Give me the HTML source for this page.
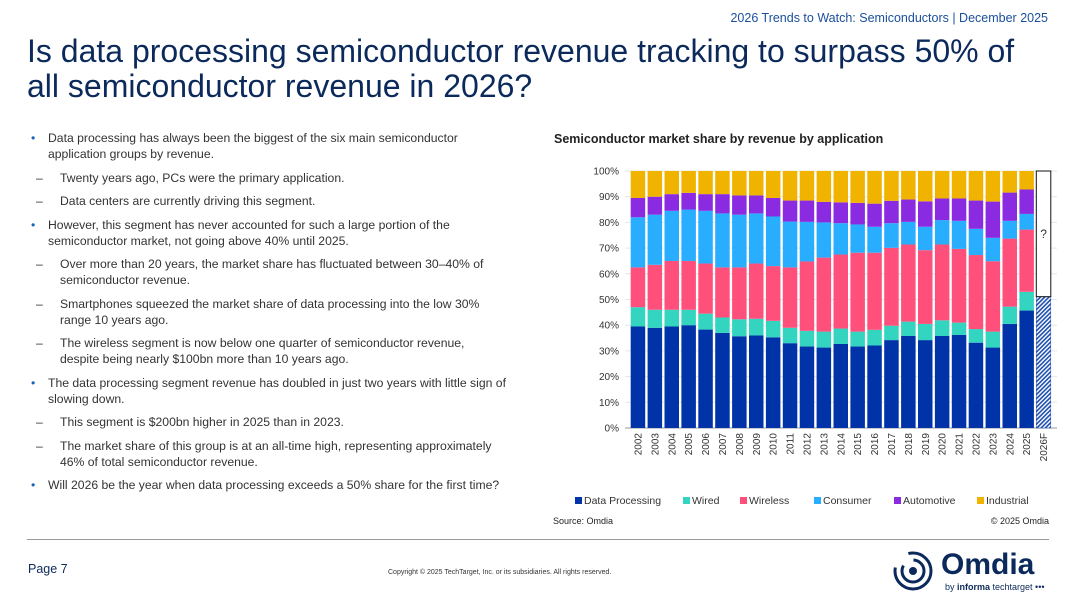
<!DOCTYPE html>
<html><head><meta charset="utf-8"><style>
body{margin:0;width:1080px;height:600px;overflow:hidden;background:#fff;font-family:"Liberation Sans",sans-serif;position:relative;color:#222}
.abs{position:absolute}
ul{margin:0;padding:0;list-style:none}
li{position:relative;font-size:12.2px;line-height:16px;color:#333}
li.b{padding-left:20px;margin-bottom:7.5px}
li.b:before{content:"•";position:absolute;left:3px;color:#1a64b4}
li.s{margin-left:20px;padding-left:12px;margin-bottom:7.5px}
li.s:before{content:"–";position:absolute;left:-12px}
</style></head><body>
<div class="abs" style="right:32px;top:11px;font-size:12.5px;color:#1a4f9c">2026 Trends to Watch: Semiconductors | December 2025</div>
<div class="abs" style="left:27px;top:34px;font-size:32px;line-height:35px;color:#0b2a5b;width:1045px;white-space:nowrap">Is data processing semiconductor revenue tracking to surpass 50% of<br>all semiconductor revenue in 2026?</div>
<ul class="abs" style="left:28px;top:130px;width:478px">
<li class="b">Data processing has always been the biggest of the six main semiconductor application groups by revenue.</li>
<li class="s">Twenty years ago, PCs were the primary application.</li>
<li class="s">Data centers are currently driving this segment.</li>
<li class="b">However, this segment has never accounted for such a large portion of the semiconductor market, not going above 40% until 2025.</li>
<li class="s">Over more than 20 years, the market share has fluctuated between 30–40% of semiconductor revenue.</li>
<li class="s">Smartphones squeezed the market share of data processing into the low 30% range 10 years ago.</li>
<li class="s">The wireless segment is now below one quarter of semiconductor revenue, despite being nearly $100bn more than 10 years ago.</li>
<li class="b">The data processing segment revenue has doubled in just two years with little sign of slowing down.</li>
<li class="s">This segment is $200bn higher in 2025 than in 2023.</li>
<li class="s">The market share of this group is at an all-time high, representing approximately 46% of total semiconductor revenue.</li>
<li class="b">Will 2026 be the year when data processing exceeds a 50% share for the first time?</li>
</ul>
<div class="abs" style="left:554px;top:132px;font-size:12.5px;font-weight:bold">Semiconductor market share by revenue by application</div>
<svg class="abs" style="left:0;top:0" width="1080" height="540">
<defs><pattern id="h" width="3" height="3" patternUnits="userSpaceOnUse" patternTransform="rotate(45)"><rect width="3" height="3" fill="#fff"/><rect width="1.6" height="3" fill="#1f4fb0"/></pattern></defs>
<g id="g"></g></svg>
<div class="abs" style="left:553px;top:516px;font-size:9px">Source: Omdia</div>
<div class="abs" style="right:31px;top:516px;font-size:9px">© 2025 Omdia</div>
<div class="abs" style="left:27px;top:539px;width:1022px;height:1px;background:#999"></div>
<div class="abs" style="left:28px;top:562px;font-size:12.5px;color:#0b2a5b">Page 7</div>
<div class="abs" style="left:388px;top:569px;font-size:7px;color:#333">Copyright © 2025 TechTarget, Inc. or its subsidiaries. All rights reserved.</div>
<svg class="abs" style="left:892px;top:550px" width="42" height="42"><circle cx="21" cy="21" r="18" fill="none" stroke="#0b2a5b" stroke-width="3" stroke-dasharray="60 20"/><circle cx="21" cy="21" r="11" fill="none" stroke="#0b2a5b" stroke-width="3" stroke-dasharray="40 12"/><circle cx="21" cy="21" r="4" fill="#0b2a5b"/></svg>
<div class="abs" style="left:941px;top:549px;font-size:30px;font-weight:bold;color:#0b2a5b;line-height:32px">Omdia</div>
<div class="abs" style="left:945px;top:582px;font-size:9px;color:#0b2a5b">by <b>informa</b> techtarget •••</div>
<script>
const years=["2002","2003","2004","2005","2006","2007","2008","2009","2010","2011","2012","2013","2014","2015","2016","2017","2018","2019","2020","2021","2022","2023","2024","2025"];
const dataProcessing=[39.5,39,39.5,40,38.3,37,35.7,36,35.3,33,31.7,31.3,32.7,31.7,32.1,34.2,35.8,34.2,35.8,36.2,33.2,31.3,40.5,45.7];
const wired=[7.5,7,6.5,6,6.2,6,6.6,6.5,6.4,6,6.1,6.2,6,5.8,6.1,5.6,5.6,6.3,6.1,4.8,5.3,6.2,6.7,7.3];
const wireless=[15.5,17.5,19,19,19.5,19.5,20.2,21.5,21.3,23.5,27,28.8,28.8,30.7,30,30.3,30,28.7,29.5,28.7,28.8,27.4,26.5,24.2];
const consumer=[19.5,19.5,19.5,20,20.5,21,20.5,19.5,19.3,17.8,15.4,13.7,12.2,11,10.1,9.6,8.8,9.1,9.5,10.9,10.2,9.1,6.9,6.1];
const automotive=[7.5,7,6.5,6.5,6.5,7.5,7.5,7,7.2,8.2,8.3,8,8.1,8.4,9,8.7,8.7,9.9,8.4,8.7,11,14.1,11,9.5];
const forecastLabel="2026F";
const forecastDP=51.1;
const yTicks=[0,10,20,30,40,50,60,70,80,90,100];
const names=["Data Processing","Wired","Wireless","Consumer","Automotive","Industrial"];
const colors=["#0033a8","#33d4c0","#ff4f7b","#29adff","#8a2be2","#f0b400"];
const g=document.getElementById('g');const NS="http://www.w3.org/2000/svg";
function mk(t,a,p){const e=document.createElementNS(NS,t);for(const k in a)e.setAttribute(k,a[k]);(p||g).appendChild(e);return e;}
const y0=428,y1=171,x0=629.5,pitch=16.9,bw=14.5;
const Y=v=>y0-(v/100)*(y0-y1);const X=i=>x0+pitch*(i+0.5);
yTicks.forEach(t=>{const gl=mk('line',{x1:625,x2:1057,y1:Y(t),y2:Y(t),stroke:'#e6e6e6'});
const tx=mk('text',{x:619,y:Y(t)+3.5,'text-anchor':'end','font-size':10,fill:'#333'});tx.textContent=t+'%';});
mk('line',{x1:625,x2:1057,y1:y0,y2:y0,stroke:'#999'});
const series=[dataProcessing,wired,wireless,consumer,automotive];
years.forEach((yr,i)=>{let c=0;for(let s=0;s<6;s++){const v=s<5?series[s][i]:100-c;const r=mk('rect',{x:X(i)-bw/2,y:Y(c+v),width:bw,height:Y(c)-Y(c+v),fill:colors[s]});c+=v;}
const t=mk('text',{transform:`translate(${X(i)+3.5},${y0+5}) rotate(-90)`,'text-anchor':'end','font-size':10,fill:'#333'});t.textContent=yr;});
const fi=years.length;
const fb=mk('rect',{x:X(fi)-bw/2,y:Y(forecastDP),width:bw,height:Y(0)-Y(forecastDP),fill:'url(#h)',stroke:'#1f4fb0','stroke-width':0.5});
const fw=mk('rect',{x:X(fi)-bw/2,y:Y(100),width:bw,height:Y(forecastDP)-Y(100),fill:'#fff',stroke:'#111','stroke-width':1});
const q=mk('text',{x:X(fi),y:Y(74),'text-anchor':'middle','font-size':12,fill:'#333'});q.textContent='?';
const ft=mk('text',{transform:`translate(${X(fi)+3.5},${y0+5}) rotate(-90)`,'text-anchor':'end','font-size':10,fill:'#333'});ft.textContent=forecastLabel;
const lx=[575,683,740,814,894,977];
names.forEach((n,s)=>{const r=mk('rect',{x:lx[s],y:497,width:7,height:7,fill:colors[s]});
const t=mk('text',{x:lx[s]+9,y:504,'font-size':10.5,fill:'#333'});t.textContent=n;});
</script>
</body></html>
